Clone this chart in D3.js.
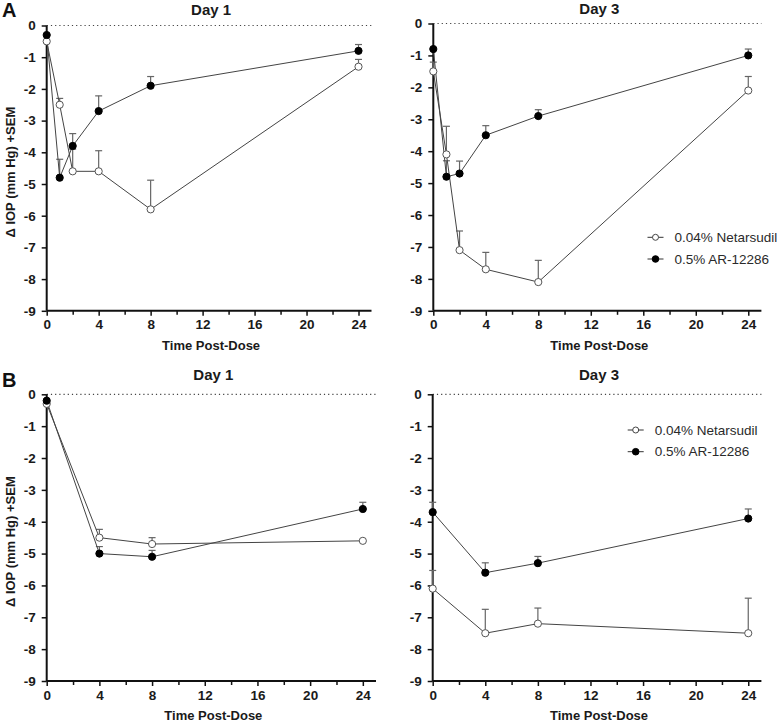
<!DOCTYPE html>
<html>
<head>
<meta charset="utf-8">
<script src="https://cdn.jsdelivr.net/npm/d3@7"></script>
<style>
  html, body { margin: 0; padding: 0; background: #fff; }
  svg { display: block; font-family: "Liberation Sans", Arial, sans-serif; }
</style>
</head>
<body>
<svg id="chart" width="777" height="725"></svg>
<script>
// ---------------- DATA ----------------
const hoursA = [0, 1, 2, 4, 8, 24];
const hoursB = [0, 4, 8, 24];
const seriesNames = ["0.04% Netarsudil", "0.5% AR-12286"];
const xTicks = [0, 4, 8, 12, 16, 20, 24];
const yTicks = [0, -1, -2, -3, -4, -5, -6, -7, -8, -9];

// Panel A, Day 1
const aDay1Netarsudil = [-0.5, -2.5, -4.6, -4.6, -5.8, -1.3];
const aDay1NetarsudilSem = [0.0, 0.2, 0.7, 0.65, 0.92, 0.23];
const aDay1AR = [-0.3, -4.8, -3.8, -2.7, -1.9, -0.8];
const aDay1ARSem = [0.0, 0.58, 0.39, 0.48, 0.29, 0.2];
// Panel A, Day 3
const aDay3Netarsudil = [-1.5, -4.1, -7.1, -7.7, -8.1, -2.1];
const aDay3NetarsudilSem = [0.29, 0.88, 0.6, 0.53, 0.68, 0.44];
const aDay3AR = [-0.8, -4.8, -4.7, -3.5, -2.9, -1.0];
const aDay3ARSem = [0.0, 0.5, 0.39, 0.3, 0.2, 0.2];
// Panel B, Day 1
const bDay1Netarsudil = [-0.3, -4.5, -4.7, -4.6];
const bDay1NetarsudilSem = [0.0, 0.26, 0.2, 0.0];
const bDay1AR = [-0.2, -5.0, -5.1, -3.6];
const bDay1ARSem = [0.0, 0.22, 0.2, 0.21];
// Panel B, Day 3
const bDay3Netarsudil = [-6.1, -7.5, -7.2, -7.5];
const bDay3NetarsudilSem = [0.57, 0.75, 0.49, 1.1];
const bDay3AR = [-3.7, -5.6, -5.3, -3.9];
const bDay3ARSem = [0.31, 0.31, 0.21, 0.3];

// ---------------- DRAWING ----------------
const svg = d3.select("#chart");
const yLabel = "\u0394 IOP (mm Hg) +SEM";

function drawPanel(p) {
  const x = d3.scaleLinear().domain([0, 25]).range([p.x0, p.x1]);
  const y = d3.scaleLinear().domain([-9, 0]).range([p.yb, p.yt]);
  const g = svg.append("g");

  // zero reference dotted line
  g.append("line")
    .attr("x1", x(0)).attr("x2", x(25))
    .attr("y1", y(0)).attr("y2", y(0))
    .attr("stroke", "#444").attr("stroke-width", 1.2)
    .attr("stroke-dasharray", "1.2,3");

  // axes
  const xAxis = d3.axisBottom(x).tickValues(d3.range(0, 25, 2))
    .tickSize(5).tickPadding(4)
    .tickFormat(d => xTicks.includes(d) ? String(d) : "");
  const gx = g.append("g").attr("transform", `translate(0,${y(-9)})`).call(xAxis);
  const yAxis = d3.axisLeft(y).tickValues(yTicks).tickSize(5).tickPadding(6)
    .tickFormat(d => String(d));
  const gy = g.append("g").attr("transform", `translate(${x(0)},0)`).call(yAxis);
  [gx, gy].forEach(a => {
    a.select(".domain").attr("stroke", "#111").attr("stroke-width", 2).attr("d",
      a === gx ? `M${x(0)},0H${x(25)}` : `M0,${y(0)}V${y(-9)}`);
    a.selectAll(".tick line").attr("stroke", "#111").attr("stroke-width", 1.5);
    a.selectAll(".tick text").attr("fill", "#1a1a1a")
      .style("font-size", "13.5px").style("font-weight", "bold")
      .style("font-family", "'Liberation Sans', Arial, sans-serif");
  });
  gx.selectAll(".tick").filter(d => !xTicks.includes(d)).select("line").attr("y2", 4);

  // title
  g.append("text").attr("x", (x(0) + x(25)) / 2 + 2).attr("y", p.titleY)
    .attr("text-anchor", "middle").style("font-size", "15px").style("font-weight", "bold")
    .attr("fill", "#1a1a1a").text(p.title);

  if (p.showXLabel) {
    g.append("text").attr("x", (x(0) + x(25)) / 2 + 2).attr("y", y(-9) + 39)
      .attr("text-anchor", "middle").style("font-size", "13px").style("font-weight", "bold")
      .attr("fill", "#1a1a1a").text("Time Post-Dose");
  }
  if (p.showYLabel) {
    const cy = (y(0) + y(-9)) / 2 + 4;
    g.append("text").attr("transform", `translate(15,${cy}) rotate(-90)`)
      .attr("text-anchor", "middle").style("font-size", "13px").style("font-weight", "bold")
      .attr("fill", "#1a1a1a").text(yLabel);
  }
  if (p.letter) {
    g.append("text").attr("x", 2).attr("y", p.letterY)
      .style("font-size", "20px").style("font-weight", "bold").attr("fill", "#111").text(p.letter);
  }

  const line = d3.line().x(d => x(d.t)).y(d => y(d.v));
  const series = [
    { vals: p.net, sem: p.netSem, open: true },
    { vals: p.ar, sem: p.arSem, open: false }
  ];
  series.forEach(s => {
    const pts = p.hours.map((t, i) => ({ t, v: s.vals[i], e: s.sem[i] }));
    // error bars (upward only)
    const eb = g.append("g");
    pts.filter(d => d.e > 0).forEach(d => {
      eb.append("line").attr("x1", x(d.t)).attr("x2", x(d.t))
        .attr("y1", y(d.v)).attr("y2", y(d.v + d.e))
        .attr("stroke", "#666").attr("stroke-width", 1.2);
      eb.append("line").attr("x1", x(d.t) - 3.5).attr("x2", x(d.t) + 3.5)
        .attr("y1", y(d.v + d.e)).attr("y2", y(d.v + d.e))
        .attr("stroke", "#666").attr("stroke-width", 1.2);
    });
    s.pts = pts;
  });
  series.forEach(s => {
    g.append("path").datum(s.pts).attr("d", line)
      .attr("fill", "none").attr("stroke", "#444").attr("stroke-width", 1);
  });
  series.forEach(s => {
    g.append("g").selectAll("circle").data(s.pts).join("circle")
      .attr("cx", d => x(d.t)).attr("cy", d => y(d.v)).attr("r", 3.6)
      .attr("fill", s.open ? "#fff" : "#000")
      .attr("stroke", s.open ? "#555" : "#000").attr("stroke-width", 1);
  });

  if (p.legend) {
    const L = p.legend;
    seriesNames.forEach((name, i) => {
      const ly = L.y + i * 21.7;
      g.append("line").attr("x1", L.x - 8).attr("x2", L.x + 8)
        .attr("y1", ly).attr("y2", ly).attr("stroke", "#333").attr("stroke-width", 1);
      g.append("circle").attr("cx", L.x).attr("cy", ly).attr("r", i === 0 ? 3 : 3.3)
        .attr("fill", i === 0 ? "#fff" : "#000").attr("stroke", i === 0 ? "#444" : "#000");
      g.append("text").attr("x", L.x + 19).attr("y", ly).attr("dy", "0.35em")
        .style("font-size", "13.5px").attr("fill", "#2a2a2a").text(name);
    });
  }
}

drawPanel({ x0: 46.7, x1: 371.5, yt: 25.5, yb: 310.8, hours: hoursA,
  net: aDay1Netarsudil, netSem: aDay1NetarsudilSem, ar: aDay1AR, arSem: aDay1ARSem,
  title: "Day 1", titleY: 14.5, showYLabel: true, showXLabel: true, letter: "A", letterY: 17 });
drawPanel({ x0: 433.3, x1: 761.4, yt: 23.5, yb: 310.8, hours: hoursA,
  net: aDay3Netarsudil, netSem: aDay3NetarsudilSem, ar: aDay3AR, arSem: aDay3ARSem,
  title: "Day 3", titleY: 13.5, showYLabel: false, showXLabel: true,
  legend: { x: 655.5, y: 237.3 } });
drawPanel({ x0: 46.7, x1: 376, yt: 394.3, yb: 681, hours: hoursB,
  net: bDay1Netarsudil, netSem: bDay1NetarsudilSem, ar: bDay1AR, arSem: bDay1ARSem,
  title: "Day 1", titleY: 379.5, showYLabel: true, showXLabel: true, letter: "B", letterY: 387 });
drawPanel({ x0: 432.7, x1: 761.4, yt: 394.3, yb: 681, hours: hoursB,
  net: bDay3Netarsudil, netSem: bDay3NetarsudilSem, ar: bDay3AR, arSem: bDay3ARSem,
  title: "Day 3", titleY: 379.5, showYLabel: false, showXLabel: true,
  legend: { x: 635.7, y: 430 } });
</script>
</body>
</html>
